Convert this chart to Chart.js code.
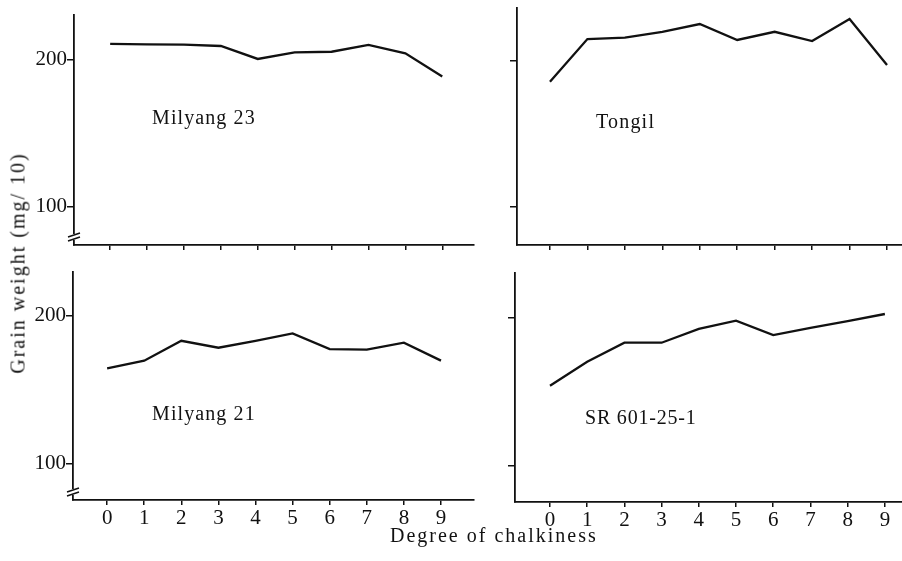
<!DOCTYPE html>
<html>
<head>
<meta charset="utf-8">
<script src="https://cdn.jsdelivr.net/npm/chart.js@4"></script>
<style>
    body { margin: 0; background: #fff; }
    #lienzo { position: relative; width: 902px; height: 561px; overflow: hidden; background: #fff; }
    #lienzo canvas { position: absolute; left: 0; top: 0; }
    .texto { position: absolute; font-family: "Liberation Serif", serif; color: #111; white-space: nowrap; }
</style>
</head>
<body>
<div id="lienzo">
    <canvas id="g-tl" width="902" height="561"></canvas>
    <canvas id="g-tr" width="902" height="561"></canvas>
    <canvas id="g-bl" width="902" height="561"></canvas>
    <canvas id="g-br" width="902" height="561"></canvas>

    <div class="texto" style="left:152px; top:106px; font-size:20px; letter-spacing:1.1px;">Milyang 23</div>
    <div class="texto" style="left:596px; top:110px; font-size:20px; letter-spacing:1.2px;">Tongil</div>
    <div class="texto" style="left:152px; top:402px; font-size:20px; letter-spacing:1.1px;">Milyang 21</div>
    <div class="texto" style="left:585px; top:406px; font-size:20px; letter-spacing:0.8px;">SR 601-25-1</div>

    <div class="texto" style="left:390px; top:524px; font-size:20px; letter-spacing:2px;">Degree of chalkiness</div>
    <div class="texto" id="ylabel" style="left:18px; top:263px; font-size:20px; letter-spacing:2px; transform: translate(-50%, -50%) rotate(-90deg);">Grain weight (mg/ 10)</div>
</div>

<script>
// Datos
const grados = [0, 1, 2, 3, 4, 5, 6, 7, 8, 9]; // Grado de yesosidad
const milyang23 = [211, 210.6, 210.5, 209.5, 200.7, 205.2, 205.6, 210.2, 204.5, 188.7];
const tongil = [185.8, 215, 216, 220, 225.3, 214.4, 220, 213.7, 228.8, 197.3];
const milyang21 = [164.5, 169.7, 183.1, 178.4, 183, 188.1, 177.5, 177.1, 181.8, 169.7];
const sr601 = [154, 170.3, 183.1, 183.1, 192.4, 198, 188.3, 193.2, 197.7, 202.5];
const ticksY = [100, 200];

const ANCHO = 902, ALTO = 561;
const EJE_Y = 40, EJE_X = 30;
const fuente = { family: "'Liberation Serif', serif", size: 21 };

// Marca de corte en el eje y
const corte = {
    id: "corte",
    afterDraw(chart, args, opts) {
        if (!opts.mostrar) return;
        const ctx = chart.ctx;
        const x = chart.chartArea.left;
        const y = chart.chartArea.bottom - 8;
        ctx.save();
        ctx.strokeStyle = "#fff";
        ctx.lineWidth = 4;
        ctx.beginPath();
        ctx.moveTo(x, y - 3);
        ctx.lineTo(x, y + 3);
        ctx.stroke();
        ctx.strokeStyle = "#111";
        ctx.lineWidth = 1.5;
        ctx.beginPath();
        ctx.moveTo(x - 6, y);
        ctx.lineTo(x + 6, y - 4);
        ctx.moveTo(x - 6, y + 4);
        ctx.lineTo(x + 6, y);
        ctx.stroke();
        ctx.restore();
    }
};

function crearPanel(id, datos, p) {
    const ctx = document.getElementById(id).getContext("2d");
    return new Chart(ctx, {
        type: "line",
        data: {
            datasets: [{
                data: grados.map((g, i) => ({ x: g, y: datos[i] })),
                borderColor: "#111",
                borderWidth: 2.3,
                pointRadius: 0,
                tension: 0,
                fill: false,
            }],
        },
        options: {
            responsive: false,
            animation: false,
            events: [],
            layout: {
                padding: {
                    left: p.left - EJE_Y,
                    top: p.top,
                    right: ANCHO - p.right,
                    bottom: ALTO - p.bottom - EJE_X,
                },
            },
            plugins: {
                legend: { display: false },
                tooltip: { enabled: false },
                corte: { mostrar: p.corte },
            },
            scales: {
                x: {
                    type: "linear",
                    min: p.xmin,
                    max: p.xmax,
                    afterBuildTicks: (s) => { s.ticks = grados.map(v => ({ value: v })); },
                    afterFit: (s) => { s.height = EJE_X; },
                    grid: { drawOnChartArea: false, drawTicks: true, tickLength: 5, color: "#111", lineWidth: 1.5 },
                    border: { display: true, color: "#111", width: 1.8 },
                    ticks: { display: p.etiquetasX, color: "#111", font: fuente, padding: 1, maxRotation: 0 },
                },
                y: {
                    type: "linear",
                    min: p.ymin,
                    max: p.ymax,
                    afterBuildTicks: (s) => { s.ticks = ticksY.map(v => ({ value: v })); },
                    afterFit: (s) => { s.width = EJE_Y; },
                    grid: { drawOnChartArea: false, drawTicks: true, tickLength: 7, color: "#111", lineWidth: 1.5 },
                    border: { display: true, color: "#111", width: 1.8 },
                    ticks: { display: p.etiquetasY, color: "#111", font: fuente, padding: 0 },
                },
            },
        },
        plugins: [corte],
    });
}

crearPanel("g-tl", milyang23, { left: 74, top: 15, right: 474, bottom: 245, xmin: -0.98, xmax: 9.86, ymin: 74.1, ymax: 230.6, etiquetasX: false, etiquetasY: true, corte: true });
crearPanel("g-tr", tongil, { left: 517, top: 8, right: 902, bottom: 245, xmin: -0.88, xmax: 9.4, ymin: 74, ymax: 236.3, etiquetasX: false, etiquetasY: false, corte: false });
crearPanel("g-bl", milyang21, { left: 73, top: 272, right: 474, bottom: 500, xmin: -0.92, xmax: 9.89, ymin: 75.7, ymax: 229.5, etiquetasX: true, etiquetasY: true, corte: true });
crearPanel("g-br", sr601, { left: 515, top: 273, right: 902, bottom: 502, xmin: -0.94, xmax: 9.46, ymin: 75.5, ymax: 230.2, etiquetasX: true, etiquetasY: false, corte: false });
</script>
</body>
</html>
